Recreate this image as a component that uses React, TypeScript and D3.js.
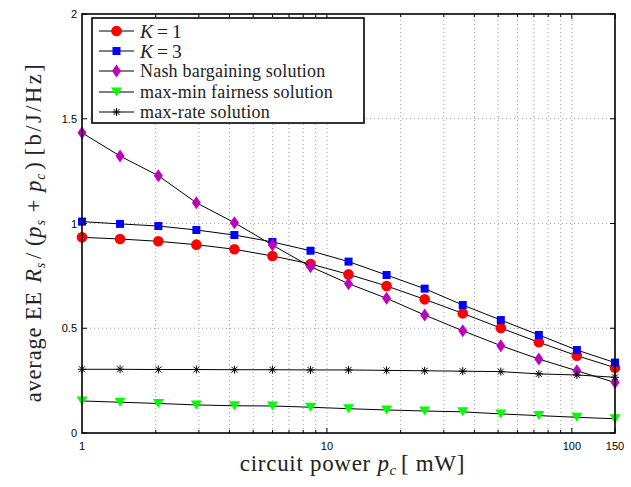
import React from 'react';
import * as d3 from 'd3';

// circuit power p_c [mW], 15 samples on a log grid
const circuitPower = [1, 1.43, 2.05, 2.93, 4.19, 5.99, 8.57, 12.25, 17.52, 25.06, 35.85, 51.27, 73.3, 104.8, 150];

const eeK1 = [0.934, 0.926, 0.915, 0.899, 0.877, 0.845, 0.807, 0.757, 0.702, 0.638, 0.571, 0.501, 0.433, 0.369, 0.312];
const eeK3 = [1.009, 0.998, 0.988, 0.969, 0.945, 0.912, 0.87, 0.818, 0.754, 0.689, 0.611, 0.539, 0.468, 0.396, 0.336];
const eeNash = [1.433, 1.322, 1.228, 1.099, 1.004, 0.897, 0.794, 0.713, 0.643, 0.563, 0.488, 0.417, 0.353, 0.297, 0.241];
const eeMaxMin = [0.153, 0.147, 0.141, 0.134, 0.13, 0.129, 0.123, 0.116, 0.11, 0.105, 0.101, 0.091, 0.083, 0.075, 0.068];
const eeMaxRate = [0.304, 0.304, 0.303, 0.303, 0.302, 0.302, 0.301, 0.301, 0.299, 0.297, 0.295, 0.293, 0.282, 0.277, 0.266];

const xTickLabels = [1, 10, 100, 150];
const yTickLabels = [0, 0.5, 1, 1.5, 2];

const series = [
  { key: 'k1', values: eeK1, color: '#ff0000', marker: 'circle' },
  { key: 'k3', values: eeK3, color: '#0000ff', marker: 'square' },
  { key: 'nash', values: eeNash, color: '#bf00bf', marker: 'diamond' },
  { key: 'maxmin', values: eeMaxMin, color: '#00ff00', marker: 'triangle' },
  { key: 'maxrate', values: eeMaxRate, color: '#000000', marker: 'star' },
];

const serif = '"Liberation Serif", "Times New Roman", serif';
const sans = '"Liberation Sans", Arial, Helvetica, sans-serif';

function Marker({ type, cx, cy, color }: { type: string; cx: number; cy: number; color: string }) {
  if (type === 'circle') return <circle cx={cx} cy={cy} r={5.3} fill={color} />;
  if (type === 'square') return <rect x={cx - 4} y={cy - 4} width={8} height={8} fill={color} />;
  if (type === 'diamond')
    return <path d={`M${cx},${cy - 6.5}L${cx + 4.5},${cy}L${cx},${cy + 6.5}L${cx - 4.5},${cy}Z`} fill={color} />;
  if (type === 'triangle')
    return <path d={`M${cx - 5.5},${cy - 4.5}L${cx + 5.5},${cy - 4.5}L${cx},${cy + 4.5}Z`} fill={color} />;
  // star: plus + cross
  const r = 4;
  const d = r * 0.75;
  return (
    <path
      d={`M${cx - r},${cy}L${cx + r},${cy}M${cx},${cy - r}L${cx},${cy + r}M${cx - d},${cy - d}L${cx + d},${cy + d}M${cx - d},${cy + d}L${cx + d},${cy - d}`}
      stroke={color}
      strokeWidth={1}
      fill="none"
    />
  );
}

export default function App() {
  const width = 631;
  const height = 487;
  const marginLeft = 82;
  const marginRight = 16;
  const marginTop = 14;
  const marginBottom = 54;

  const x = d3.scaleLog().domain([1, 150]).range([marginLeft, width - marginRight]);
  const y = d3.scaleLinear().domain([0, 2]).range([height - marginBottom, marginTop]);

  const line = d3
    .line<[number, number]>()
    .x(d => x(d[0]))
    .y(d => y(d[1]));

  const x0 = x.range()[0];
  const x1 = x.range()[1];
  const y0 = y.range()[0];
  const y1 = y.range()[1];

  const logTicks = x.ticks().filter(t => t > 1 && t < 150);
  const majorX = (t: number) => xTickLabels.includes(t);

  // legend rows
  const legendX = 92;
  const legendY = 18;
  const legendW = 272;
  const legendH = 105;
  const rowY = [31, 51, 71, 92, 112];

  return (
    <svg width={width} height={height} style={{ position: 'absolute', left: 0, top: 0, background: '#fff' }}>
      <rect width={width} height={height} fill="#fff" />

      {/* grid */}
      <g stroke="#8a8a8a" strokeWidth={0.8} strokeDasharray="1,3">
        {logTicks.map(t => (
          <line key={t} x1={x(t)} x2={x(t)} y1={y0} y2={y1} />
        ))}
        {yTickLabels.filter(t => t > 0 && t < 2).map(t => (
          <line key={t} x1={x0} x2={x1} y1={y(t)} y2={y(t)} />
        ))}
      </g>

      {/* ticks */}
      <g stroke="#000" strokeWidth={1}>
        {logTicks.concat([150]).map(t => {
          const len = majorX(t) ? 5 : 3;
          return (
            <g key={t}>
              <line x1={x(t)} x2={x(t)} y1={y0} y2={y0 - len} />
              <line x1={x(t)} x2={x(t)} y1={y1} y2={y1 + len} />
            </g>
          );
        })}
        {yTickLabels.map(t => (
          <g key={t}>
            <line x1={x0} x2={x0 + 5} y1={y(t)} y2={y(t)} />
            <line x1={x1} x2={x1 - 5} y1={y(t)} y2={y(t)} />
          </g>
        ))}
      </g>

      {/* tick labels */}
      <g fontFamily={sans} fontSize={11} fill="#000">
        {xTickLabels.map(t => (
          <text key={t} x={x(t)} y={y0 + 17} textAnchor="middle">
            {t}
          </text>
        ))}
        {yTickLabels.map(t => (
          <text key={t} x={x0 - 5} y={y(t) + 4} textAnchor="end">
            {t}
          </text>
        ))}
      </g>

      {/* series */}
      {series.map(s => {
        const pts = circuitPower.map((p, i) => [p, s.values[i]] as [number, number]);
        return (
          <g key={s.key}>
            <path d={line(pts) || ''} fill="none" stroke="#000" strokeWidth={1} />
            {pts.map((d, i) => (
              <Marker key={i} type={s.marker} cx={x(d[0])} cy={y(d[1])} color={s.color} />
            ))}
          </g>
        );
      })}

      {/* axes box */}
      <rect x={x0} y={y1} width={x1 - x0} height={y0 - y1} fill="none" stroke="#000" strokeWidth={1.6} />

      {/* legend */}
      <g>
        <rect x={legendX} y={legendY} width={legendW} height={legendH} fill="#fff" stroke="#000" strokeWidth={1.6} />
        {series.map((s, i) => (
          <g key={s.key}>
            <line x1={99} x2={134} y1={rowY[i]} y2={rowY[i]} stroke="#000" strokeWidth={1} />
            <Marker type={s.marker} cx={116.5} cy={rowY[i]} color={s.color} />
          </g>
        ))}
        <text x={140} y={rowY[0] + 6.5} fontFamily={serif} fontSize={19.5} fill="#222">
          <tspan fontStyle="italic">K</tspan>
          <tspan dx={4}>=</tspan>
          <tspan dx={4}>1</tspan>
        </text>
        <text x={140} y={rowY[1] + 6.5} fontFamily={serif} fontSize={19.5} fill="#222">
          <tspan fontStyle="italic">K</tspan>
          <tspan dx={4}>=</tspan>
          <tspan dx={4}>3</tspan>
        </text>
        <g fontFamily={serif} fontSize={18} letterSpacing={0.2} fill="#222">
          <text x={140} y={rowY[2] + 5.5}>Nash bargaining solution</text>
          <text x={140} y={rowY[3] + 5.5}>max-min fairness solution</text>
          <text x={140} y={rowY[4] + 5.5}>max-rate solution</text>
        </g>
      </g>

      {/* x label */}
      <text x={(x0 + x1) / 2 + 4} y={471} textAnchor="middle" fontFamily={serif} fontSize={23} letterSpacing={0.7} fill="#222">
        <tspan>circuit power </tspan>
        <tspan fontStyle="italic">p</tspan>
        <tspan fontStyle="italic" fontSize={15} dy={4}>c</tspan>
        <tspan dy={-4} dx={4}>[ mW]</tspan>
      </text>

      {/* y label */}
      <text
        transform={`translate(41,232) rotate(-90)`}
        textAnchor="middle"
        fontFamily={serif}
        fontSize={22.5}
        letterSpacing={0.8}
        fill="#222"
      >
        <tspan>average EE </tspan>
        <tspan fontStyle="italic" dx={2}>R</tspan>
        <tspan fontStyle="italic" fontSize={14} dy={4}>s</tspan>
        <tspan dy={-4} dx={3}>/</tspan>
        <tspan dx={6}>(</tspan>
        <tspan fontStyle="italic">p</tspan>
        <tspan fontStyle="italic" fontSize={14} dy={4}>s</tspan>
        <tspan dy={-4} dx={7}>+</tspan>
        <tspan fontStyle="italic" dx={7}>p</tspan>
        <tspan fontStyle="italic" fontSize={14} dy={4}>c</tspan>
        <tspan dy={-4} dx={3}>)</tspan>
        <tspan dx={6} letterSpacing={2.5}>[b/J/Hz]</tspan>
      </text>
    </svg>
  );
}
